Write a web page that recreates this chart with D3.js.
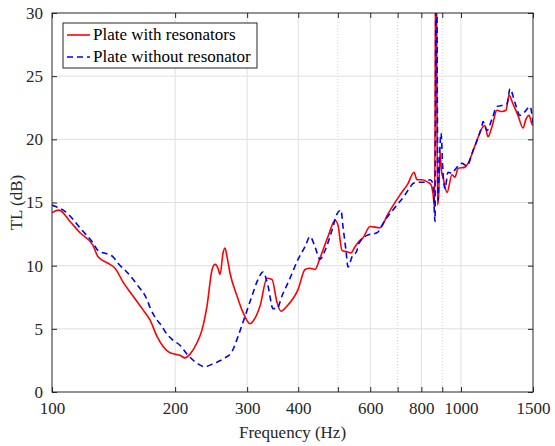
<!DOCTYPE html>
<html>
<head>
<meta charset="utf-8">
<script src="https://cdn.jsdelivr.net/npm/d3@7"></script>
<style>
  body { margin: 0; background: #fff; }
</style>
</head>
<body>
<div id="graph-container"></div>
<script>
// Frequencies (Hz) and TL (dB)
const redFreq = [100, 104, 110.7, 117.1, 126, 129.6, 138.6, 142.6, 149.2, 157.8, 167, 173.6, 180.6, 186.9,
  194.3, 199.8, 205.6, 211.4, 217.5, 226.2, 232.6, 239.3, 246.3, 250.4, 254.6, 257.6, 261.9, 264.9, 267.9,
  272.5, 283.4, 293.1, 305, 310.1, 322.6, 335.5, 345.1, 354.9, 362.9, 375.4, 399.5, 415.6, 427.4, 439.6,
  452.1, 473, 492, 500.4, 511.8, 526.4, 538.3, 550.6, 566.3, 576, 599.1, 633.8, 663, 709.4, 742.1, 767.6,
  780.7, 803, 830.6, 845, 855, 862, 869, 876, 881, 888.7, 896, 903.8, 924.4, 950.6, 966.8, 983.3, 1022.8,
  1040.2, 1082, 1131.8, 1144.6, 1164.1, 1190.6, 1224.6, 1259.6, 1288.3, 1310.3, 1340.2, 1378.4, 1417.8,
  1442, 1466.6, 1491.6, 1500];
const redTL = [14.2, 14.4, 13.5, 12.6, 11.6, 10.7, 10.1, 9.8, 8.7, 7.6, 6.5, 5.7, 4.4, 3.6,
  3.1, 3.0, 2.9, 2.7, 3.0, 3.9, 4.9, 6.8, 9.7, 10.1, 9.8, 9.3, 11.0, 11.4, 10.7,
  9.4, 7.6, 6.3, 5.4, 5.6, 6.8, 9.0, 8.9, 7.1, 6.4, 6.8, 8.1, 9.7, 9.8, 9.7,
  10.6, 12.3, 13.6, 13.2, 11.2, 11.1, 11.0, 11.5, 12.0, 12.2, 13.1, 13.0, 14.1, 15.6, 16.5, 17.4,
  16.8, 16.8, 16.6, 16.4, 15.6, 14.6, 40, 14.8, 15.3, 19.0, 17.5, 17.0, 15.8, 17.2, 17.0, 17.7, 17.8,
  18.1, 19.5, 21.0, 21.1, 20.2, 21.0, 22.3, 22.2, 22.3, 23.5, 22.8, 21.9, 20.9,
  21.6, 21.9, 21.2, 21.1];

const blueFreq = [100, 101.7, 107.6, 118.4, 126, 129.6, 137, 141, 145, 153.4, 162.3, 170.8, 173.6, 180.6,
  185.8, 188.9, 197.6, 205.6, 213.8, 223.7, 236.6, 246.3, 254.6, 264.9, 275.5, 285, 296.5, 308.3, 318.9,
  328.1, 337.4, 347, 354.9, 365, 381.9, 399.5, 415.6, 427.4, 439.6, 452.1, 465.1, 483.7, 497.6, 508.9,
  514.6, 523.4, 529.3, 541.4, 556.8, 560, 589.1, 623.2, 651.9, 697.5, 729.6, 750.5, 763.3, 785.1, 816.7,
  840, 854.3, 864, 870, 878.7, 885, 893.7, 903.8, 914, 929.6, 950.6, 966.8, 1005.6, 1034.3, 1069.9,
  1125.5, 1131.8, 1157.6, 1190.6, 1224.6, 1266.7, 1295.6, 1317.7, 1355.3, 1394, 1433.9, 1474.9, 1500];
const blueTL = [14.8, 14.7, 14.3, 12.8, 11.8, 11.2, 10.9, 10.7, 10.2, 9.4, 8.4, 7.3, 6.7, 5.7,
  5.2, 4.8, 4.1, 3.7, 3.0, 2.4, 2.0, 2.2, 2.4, 2.7, 3.2, 4.4, 6.0, 7.6, 8.9,
  9.5, 8.4, 6.6, 6.6, 7.6, 9.0, 10.5, 11.5, 12.3, 11.5, 10.5, 11.2, 12.8, 14.1, 14.4,
  13.1, 11.2, 9.9, 10.7, 11.2, 11.6, 12.4, 12.6, 13.6, 14.8, 15.6, 16.2, 16.5, 16.6, 16.6,
  16.8, 16.5, 13.5, 40, 15.2, 18.0, 20.5, 17.3, 16.1, 17.4, 17.3, 17.6, 18.1, 17.9, 19.1,
  21.1, 21.4, 20.7, 21.6, 22.6, 22.7, 22.8, 24.0, 22.9, 21.9, 22.2, 22.6, 21.3];

const seriesNames = ["Plate with resonators", "Plate without resonator"];
const xTickValues = [100, 200, 300, 400, 600, 800, 1000, 1500];
const xMinorTicks = [500, 700, 900];
const yTickValues = [0, 5, 10, 15, 20, 25, 30];

const FONT = "Liberation Serif";
const width = 555, height = 446;
const margin = { top: 13, right: 22, bottom: 54, left: 52 };
const innerW = width - margin.left - margin.right;
const innerH = height - margin.top - margin.bottom;

const svg = d3.select("#graph-container").append("svg")
  .attr("width", width)
  .attr("height", height)
  .attr("font-family", FONT);

const g = svg.append("g").attr("transform", `translate(${margin.left},${margin.top})`);

const x = d3.scaleLog().domain([100, 1500]).range([0, innerW]);
const y = d3.scaleLinear().domain([0, 30]).range([innerH, 0]);

// grid
g.append("g").selectAll("line").data(xTickValues.slice(1, -1)).enter().append("line")
  .attr("x1", d => x(d)).attr("x2", d => x(d)).attr("y1", 0).attr("y2", innerH)
  .attr("stroke", "#dfdfdf").attr("stroke-width", 1);
g.append("g").selectAll("line").data(xMinorTicks).enter().append("line")
  .attr("x1", d => x(d)).attr("x2", d => x(d)).attr("y1", 0).attr("y2", innerH)
  .attr("stroke", "#cfcfcf").attr("stroke-width", 1).attr("stroke-dasharray", "1,2");
g.append("g").selectAll("line").data(yTickValues.slice(1, -1)).enter().append("line")
  .attr("x1", 0).attr("x2", innerW).attr("y1", d => y(d)).attr("y2", d => y(d))
  .attr("stroke", "#dfdfdf").attr("stroke-width", 1);

// clip for the spike
svg.append("defs").append("clipPath").attr("id", "clip")
  .append("rect").attr("width", innerW).attr("height", innerH);

const line = d3.line().x(d => x(d[0])).y(d => y(d[1])).curve(d3.curveMonotoneX);
const redData = redFreq.map((f, i) => [f, redTL[i]]);
const blueData = blueFreq.map((f, i) => [f, blueTL[i]]);

const plot = g.append("g").attr("clip-path", "url(#clip)");
plot.append("path").datum(redData).attr("d", line)
  .attr("fill", "none").attr("stroke", "#ff0000").attr("stroke-width", 1.6);
plot.append("path").datum(blueData).attr("d", line)
  .attr("fill", "none").attr("stroke", "#0000ff").attr("stroke-width", 1.6)
  .attr("stroke-dasharray", "6,4");

// axes
const allXTicks = xTickValues.concat(xMinorTicks);
const xAxis = d3.axisBottom(x).tickValues(allXTicks).tickSizeInner(-5).tickSizeOuter(0)
  .tickPadding(10).tickFormat(d => xTickValues.includes(d) ? d : "");
const xAxisTop = d3.axisTop(x).tickValues(allXTicks).tickSizeInner(-5).tickSizeOuter(0).tickFormat("");
const yAxis = d3.axisLeft(y).tickValues(yTickValues).tickSizeInner(-5).tickSizeOuter(0).tickPadding(9);
const yAxisRight = d3.axisRight(y).tickValues(yTickValues).tickSizeInner(-5).tickSizeOuter(0).tickFormat("");

function styleAxis(sel) {
  sel.attr("font-family", FONT).attr("font-size", 17);
  sel.selectAll("path").remove();
  sel.selectAll("line").attr("stroke", "#262626");
  sel.selectAll("text").attr("fill", "#262626");
}

g.append("g").attr("transform", `translate(0,${innerH})`).call(xAxis).call(styleAxis);
g.append("g").call(xAxisTop).call(styleAxis);
g.append("g").call(yAxis).call(styleAxis);
g.append("g").attr("transform", `translate(${innerW},0)`).call(yAxisRight).call(styleAxis);

g.append("rect").attr("width", innerW).attr("height", innerH)
  .attr("fill", "none").attr("stroke", "#262626").attr("stroke-width", 1);

// axis labels
svg.append("text").attr("x", margin.left + innerW / 2).attr("y", 438)
  .attr("text-anchor", "middle").attr("font-size", 17).attr("fill", "#262626").text("Frequency (Hz)");
svg.append("text").attr("transform", `translate(22,${margin.top + innerH / 2}) rotate(-90)`)
  .attr("text-anchor", "middle").attr("font-size", 17).attr("fill", "#262626").text("TL (dB)");

// legend
const legend = svg.append("g").attr("transform", "translate(63,23)");
legend.append("rect").attr("width", 194).attr("height", 45)
  .attr("fill", "#fff").attr("stroke", "#262626").attr("stroke-width", 1);
const legendColors = ["#ff0000", "#0000ff"];
const legendDash = [null, "6,4"];
seriesNames.forEach((name, i) => {
  const ly = 12 + i * 22;
  legend.append("line").attr("x1", 4).attr("x2", 27).attr("y1", ly).attr("y2", ly)
    .attr("stroke", legendColors[i]).attr("stroke-width", 1.6)
    .attr("stroke-dasharray", legendDash[i]);
  legend.append("text").attr("x", 30).attr("y", ly + 5)
    .attr("font-size", 17).attr("fill", "#000").text(name);
});
</script>
</body>
</html>
